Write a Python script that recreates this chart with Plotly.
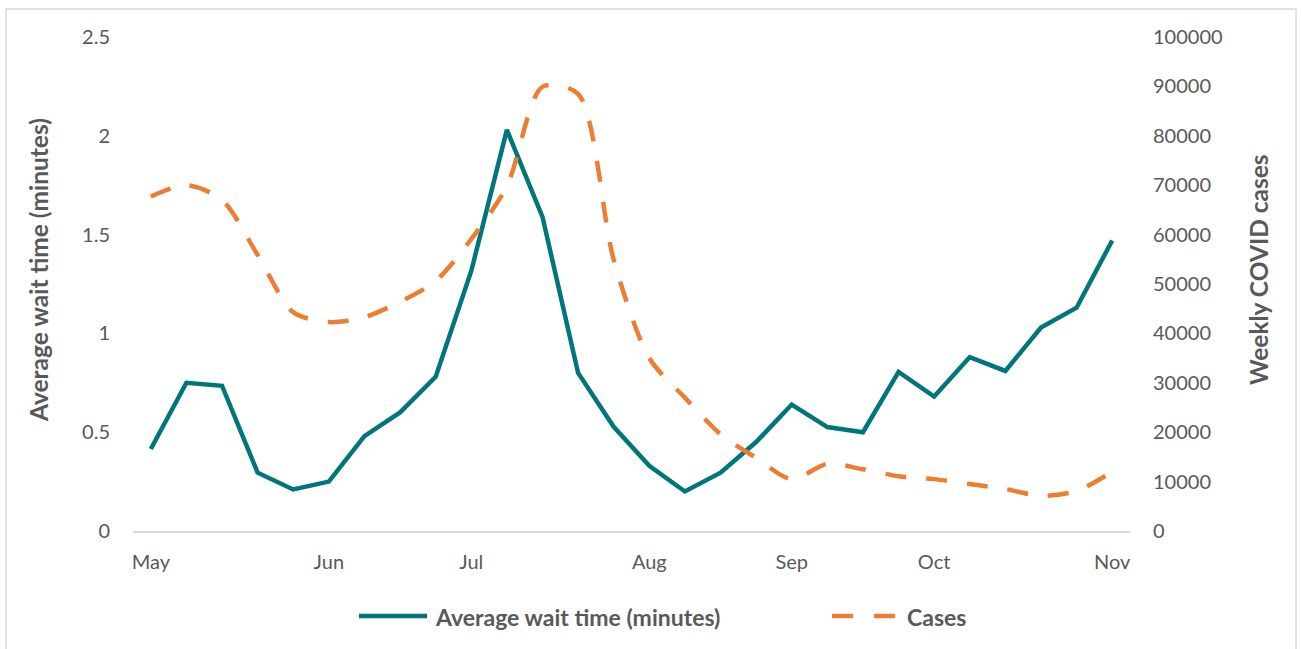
import plotly.graph_objects as go

# Weekly series, first week of May through first week of November
weeks = list(range(28))
month_ticks = [0, 5, 9, 14, 18, 22, 27]
month_labels = ["May", "Jun", "Jul", "Aug", "Sep", "Oct", "Nov"]

wait_minutes = [0.415, 0.75, 0.735, 0.295, 0.21, 0.25, 0.48, 0.60, 0.78, 1.316,
                2.03, 1.59, 0.80, 0.527, 0.33, 0.20, 0.295, 0.45, 0.64, 0.526,
                0.50, 0.805, 0.68, 0.88, 0.81, 1.03, 1.13, 1.47]

weekly_cases = [67700, 70000, 67000, 55900, 44300, 42300, 43300, 46400, 50600, 59100,
                69800, 89900, 88500, 54900, 35000, 27000, 19600, 14800, 10500, 13600,
                12500, 11100, 10500, 9500, 8500, 7100, 8100, 12000]

left_ticks = [0, 0.5, 1, 1.5, 2, 2.5]
left_tick_text = ["0", "0.5", "1", "1.5", "2", "2.5"]
right_ticks = list(range(0, 100001, 10000))

TEAL = "#00757A"
ORANGE = "#ED7D31"
GREY_TEXT = "#595959"
FONT = "Lato"

W, H = 1301, 649
L, R, T, B = 133, 171, 37, 118
PW, PH = W - L - R, H - T - B


def px(x):
    return (x - L) / PW


def py(y):
    return (H - B - y) / PH


fig = go.Figure()

fig.add_trace(go.Scatter(
    x=weeks, y=wait_minutes, mode="lines", name="Average wait time (minutes)",
    line=dict(color=TEAL, width=4.5), showlegend=False, yaxis="y"))

fig.add_trace(go.Scatter(
    x=weeks, y=weekly_cases, mode="lines", name="Cases",
    line=dict(color=ORANGE, width=4.5, dash="21px,20px", shape="spline", smoothing=0.8),
    showlegend=False, yaxis="y2"))

shapes = [
    # outer chart frame
    dict(type="rect", xref="paper", yref="paper", x0=px(6), x1=px(1296), y0=py(660), y1=py(9),
         line=dict(color="#D9D9D9", width=1.5), fillcolor="rgba(0,0,0,0)", layer="below"),
    # legend samples
    dict(type="line", xref="paper", yref="paper", x0=px(359), x1=px(427), y0=py(616), y1=py(616),
         line=dict(color=TEAL, width=4.5)),
    dict(type="line", xref="paper", yref="paper", x0=px(832), x1=px(853), y0=py(616), y1=py(616),
         line=dict(color=ORANGE, width=4.5)),
    dict(type="line", xref="paper", yref="paper", x0=px(874), x1=px(895), y0=py(616), y1=py(616),
         line=dict(color=ORANGE, width=4.5)),
]

annotations = [
    dict(text="<b>Average wait time (minutes)</b>", xref="paper", yref="paper",
         x=px(38), y=py(270), xanchor="center", yanchor="middle", textangle=-90,
         showarrow=False, font=dict(family=FONT, size=24.5, color=GREY_TEXT)),
    dict(text="<b>Weekly COVID cases</b>", xref="paper", yref="paper",
         x=px(1258), y=py(270), xanchor="center", yanchor="middle", textangle=-90,
         showarrow=False, font=dict(family=FONT, size=24.5, color=GREY_TEXT)),
    dict(text="<b>Average wait time (minutes)</b>", xref="paper", yref="paper",
         x=px(433), y=py(617), xanchor="left", yanchor="middle", showarrow=False,
         font=dict(family=FONT, size=23, color=GREY_TEXT)),
    dict(text="<b>Cases</b>", xref="paper", yref="paper",
         x=px(905), y=py(617), xanchor="left", yanchor="middle", showarrow=False,
         font=dict(family=FONT, size=23, color=GREY_TEXT)),
]

fig.update_layout(
    width=W, height=H,
    margin=dict(l=L, r=R, t=T, b=B),
    paper_bgcolor="white", plot_bgcolor="white",
    font=dict(family=FONT, size=20, color=GREY_TEXT),
    xaxis=dict(range=[-0.5, 27.5], tickmode="array", tickvals=month_ticks, ticktext=month_labels,
               showgrid=False, zeroline=False, showline=True, linecolor="#D9D9D9", linewidth=1.5,
               ticks="", ticklabelstandoff=12, fixedrange=True),
    yaxis=dict(range=[0, 2.5], tickmode="array", tickvals=left_ticks, ticktext=left_tick_text,
               showgrid=False, zeroline=False, showline=False, ticks="",
               ticklabelstandoff=22, fixedrange=True),
    yaxis2=dict(range=[0, 100000], overlaying="y", side="right", tickmode="array",
                tickvals=right_ticks, ticktext=[str(v) for v in right_ticks],
                showgrid=False, zeroline=False, showline=False, ticks="",
                ticklabelstandoff=22, fixedrange=True),
    shapes=shapes,
    annotations=annotations,
    showlegend=False,
)

fig.write_html("out.html")
